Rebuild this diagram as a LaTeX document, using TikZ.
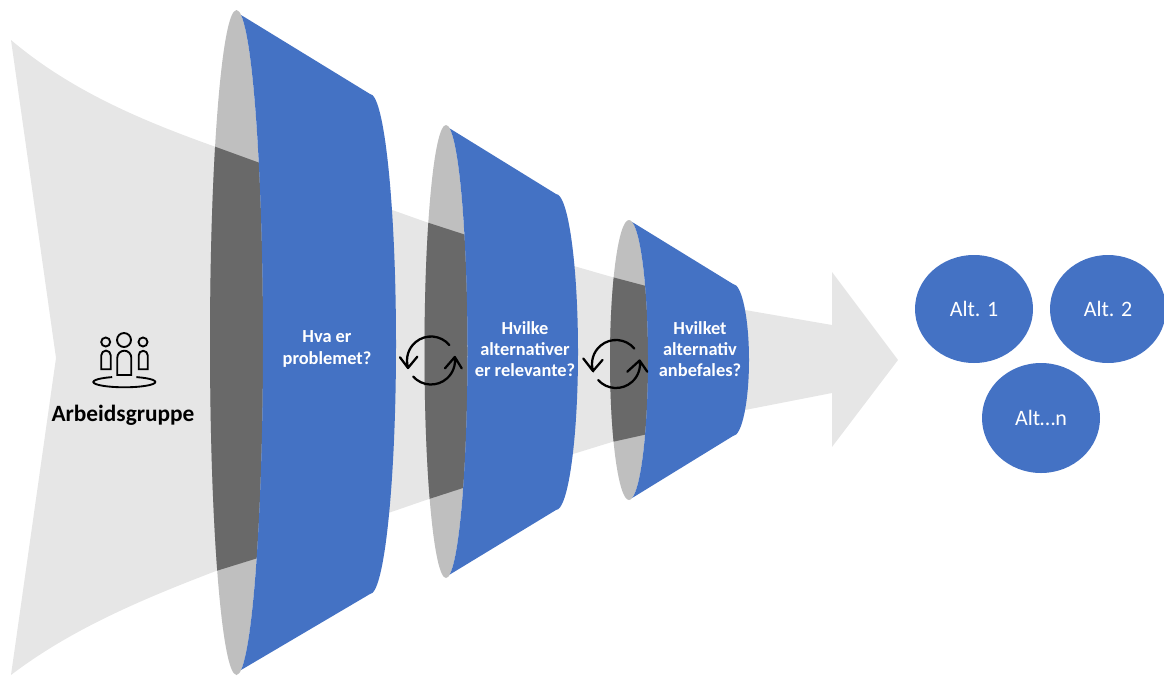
\documentclass[tikz,border=0pt]{standalone}
\usepackage{fontspec}
\setmainfont{Carlito}
\definecolor{band}{HTML}{E6E6E6}
\definecolor{lens}{HTML}{BFBFBF}
\definecolor{dark}{HTML}{696969}
\definecolor{blue1}{HTML}{4472C4}
\tikzset{
  lbl/.style={text=white,font=\bfseries\fontsize{13.8}{15.8}\selectfont,align=center},
  alt/.style={text=white,font=\fontsize{16.5}{19}\selectfont},
  cyc/.style={line width=1.7pt,line cap=round,line join=round},
  icon/.style={line width=1.4pt,draw=black},
}
\newcommand{\bandpath}{(11,40) .. controls (70,90) and (140,120) .. (216,147) -- (260,163) -- (426,222) -- (466,235) -- (612,277) -- (646,286) -- (745,310) -- (832,325) -- (832,272) -- (898,360) -- (832,447) -- (832,393) -- (745,410) -- (648,434) -- (612,442) -- (466,487) -- (426,500) -- (258,558) -- (216,571) .. controls (140,600) and (70,630) .. (11,675) -- (56,358) -- cycle}
% #1 lens cx, #2 lens cy, #3 lens rx, #4 lens ry, #5 far cx, #6 far cy, #7 far rx, #8 far ry
\newcommand{\cone}[8]{%
  \fill[lens] (#1,#2) ellipse ({#3} and {#4});
  \begin{scope}
    \clip (#1,#2) ellipse ({#3} and {#4});
    \fill[dark] \bandpath;
  \end{scope}
  \fill[blue1] ({#1+#3*cos(-80)},{#2+#4*sin(-80)}) arc[start angle=-80,end angle=80,x radius=#3,y radius=#4]
     -- (#5,{#6+#8}) arc[start angle=90,end angle=-90,x radius=#7,y radius=#8] -- cycle;
}
\begin{document}
\begin{tikzpicture}[x=0.75pt,y=-0.75pt]
\useasboundingbox (0,0) rectangle (1164,675);
\fill[band] \bandpath;
\cone{236.5}{342.5}{26.5}{332.5}{370}{344}{26}{250}
\cone{446}{351.5}{21.5}{226.5}{556}{352}{22}{158}
\cone{629}{360}{19}{140}{733}{360}{16}{76}
% labels
\node[lbl] (q1) at (327,349) {Hva er\\[1pt]problemet?};
\node[lbl] (q2) at (525,349) {Hvilke\\alternativer\\er relevante?};
\node[lbl] (q3) at (700,349) {Hvilket\\alternativ\\anbefales?};
\node[font=\bfseries\fontsize{17.5}{20}\selectfont] (grp) at (123,415) {Arbeidsgruppe};
% group icon
\draw[icon] (124,340) circle (7);
\draw[icon] (105.7,342) circle (4.5);
\draw[icon] (143,342) circle (4.5);
\draw[icon] (117.3,375) -- (117.3,357.7) arc[start angle=180,end angle=360,radius=7] -- (131.3,375) -- cycle;
\draw[icon] (101.3,369.3) -- (101.3,355.3) arc[start angle=180,end angle=360,radius=4.7] -- (110.7,369.3) -- cycle;
\draw[icon] (138.7,369.3) -- (138.7,355.3) arc[start angle=180,end angle=360,radius=4.5] -- (147.7,369.3) -- cycle;
\draw[icon] (112.2,377.1) arc[start angle=247,end angle=-67,x radius=31,y radius=5.3];
% cycle arrows
\coordinate (c1) at (431,360.5);
\coordinate (c2) at (616,364);
\draw[cyc] ([shift={(-40:24)}]c1) arc[start angle=-40,end angle=-198,radius=24] (400,357.3) -- (408,368) -- (417.3,356.7);
\draw[cyc] ([shift={(138:24)}]c1) arc[start angle=138,end angle=-8,radius=24] (445,368.3) -- (454.8,357) -- (461.7,368.3);
\draw[cyc] ([shift={(-40:24)}]c2) arc[start angle=-40,end angle=-198,radius=24] (583.3,358.5) -- (593,371) -- (602.5,360);
\draw[cyc] ([shift={(138:24)}]c2) arc[start angle=138,end angle=-8,radius=24] (627.3,371.7) -- (639.6,360.5) -- (647.3,371.7);
% circles
\fill[blue1] (974,309) ellipse (59 and 54);
\fill[blue1] (1108,309) ellipse (58 and 54);
\fill[blue1] (1041,418) ellipse (59 and 55);
\node[alt] (a1) at (974,309) {Alt. 1};
\node[alt] (a2) at (1108,309) {Alt. 2};
\node[alt] (a3) at (1041,418) {Alt…n};
\end{tikzpicture}
\end{document}
